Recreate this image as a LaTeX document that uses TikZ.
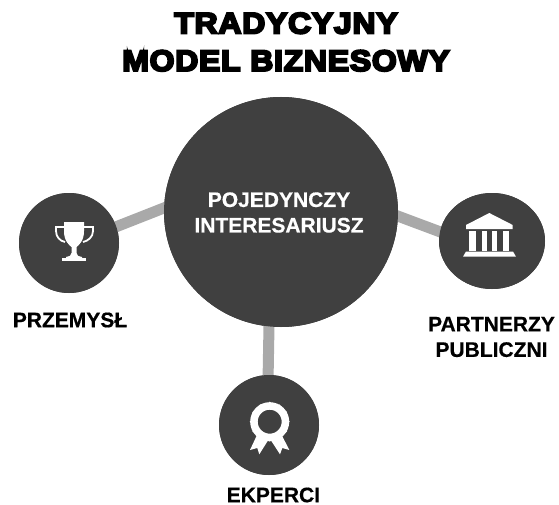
\documentclass[tikz,border=0pt]{standalone}
\usepackage{fontspec}
\usetikzlibrary{shapes.geometric}
\setmainfont{Liberation Sans}
\newfontfamily\titlefont[FakeBold=7,FakeStretch=1.08,LetterSpace=2.5]{Liberation Sans Bold}
\newfontfamily\labelfont[FakeBold=0.6]{Liberation Sans Bold}
\definecolor{hubgray}{HTML}{404040}
\definecolor{linkgray}{HTML}{A9A9A9}
\begin{document}
\begin{tikzpicture}[x=1pt,y=-1pt,
  hub/.style={ellipse,draw=none,fill=hubgray,inner sep=0pt,outer sep=0pt},
  link/.style={draw=linkgray,line width=11pt,shorten <=-3pt,shorten >=-3pt},
  lab/.style={font=\fontsize{21}{25.5}\selectfont\labelfont,align=center,text=black,inner sep=0pt},
  titlelab/.style={font=\fontsize{29.6}{37.5}\selectfont\titlefont,align=center,text=black,inner sep=0pt}]
\useasboundingbox (0,0) rectangle (559,505);
\node[hub,minimum width=234pt,minimum height=230pt] (cc) at (281,212) {};
\node[hub,minimum width=100pt,minimum height=100pt] (lc) at (69,243) {};
\node[hub,minimum width=106pt,minimum height=96pt] (rc) at (492,241) {};
\node[hub,minimum width=100pt,minimum height=100pt] (bc) at (269,425) {};
\draw[link] (lc.19.5) -- (cc.178);
\draw[link] (rc.170) -- (cc.-2);
\draw[link] (bc.91) -- (cc.264.4);
\fill[hubgray] (281,212) ellipse [x radius=117,y radius=115];
\fill[hubgray] (69,243) circle (50);
\fill[hubgray] (492,241) ellipse [x radius=53,y radius=48];
\fill[hubgray] (269,425) circle (50);
\node[lab,text=white] (main) at (279,212.5) {POJEDYNCZY\\INTERESARIUSZ};
\node[titlelab] (title) at (286,42) {TRADYCYJNY\\MODEL BIZNESOWY};
\node[lab] (prz) at (70,320) {PRZEMYSŁ};
\node[lab] (par) at (491.5,337) {PARTNERZY\\PUBLICZNI};
\node[lab] (eks) at (273.4,495) {EKPERCI};
% trophy
\fill[white] (64,222) -- (84,222) -- (84,231) .. controls (84,241) and (79,245) .. (76.5,247) -- (76.5,253) .. controls (76.5,255.5) and (79,257) .. (82,257) -- (82,258) -- (66,258) -- (66,257) .. controls (69,257) and (71.5,255.5) .. (71.5,253) -- (71.5,247) .. controls (69,245) and (64,241) .. (64,231) -- cycle;
\fill[white] (62,258) rectangle (86,261);
\draw[white,line width=1.8pt] (64,227) -- (56,227) -- (56,231) .. controls (56,237) and (60,241) .. (65,242);
\draw[white,line width=1.8pt] (84,227) -- (93,227) -- (93,231) .. controls (93,237) and (88,241) .. (83,242);
% bank
\fill[white] (489.3,213) -- (512.7,225) -- (512.7,229) -- (466,229) -- (466,225) -- cycle;
\fill[white] (469.3,231) rectangle (476,251);
\fill[white] (481.7,231) rectangle (487.3,251);
\fill[white] (491.7,231) rectangle (497.3,251);
\fill[white] (502.7,231) rectangle (509.3,251);
\fill[white] (466,251.5) -- (513,251.5) -- (516,256.7) -- (463,256.7) -- cycle;
% rosette
\draw[white,line width=7.5pt] (269.7,421.7) circle (15.75);
\foreach \a in {0,30,...,330}
  \fill[white] (269.7,421.7) ++(\a:18.8) circle (1.2);
\fill[white] (257,435) -- (250,450) -- (257.3,448) -- (259.3,454.3) -- (268.3,440) -- cycle;
\fill[white] (281.7,435) -- (289.3,450) -- (282.3,448) -- (280,454.3) -- (270.7,440) -- cycle;
\end{tikzpicture}
\end{document}
